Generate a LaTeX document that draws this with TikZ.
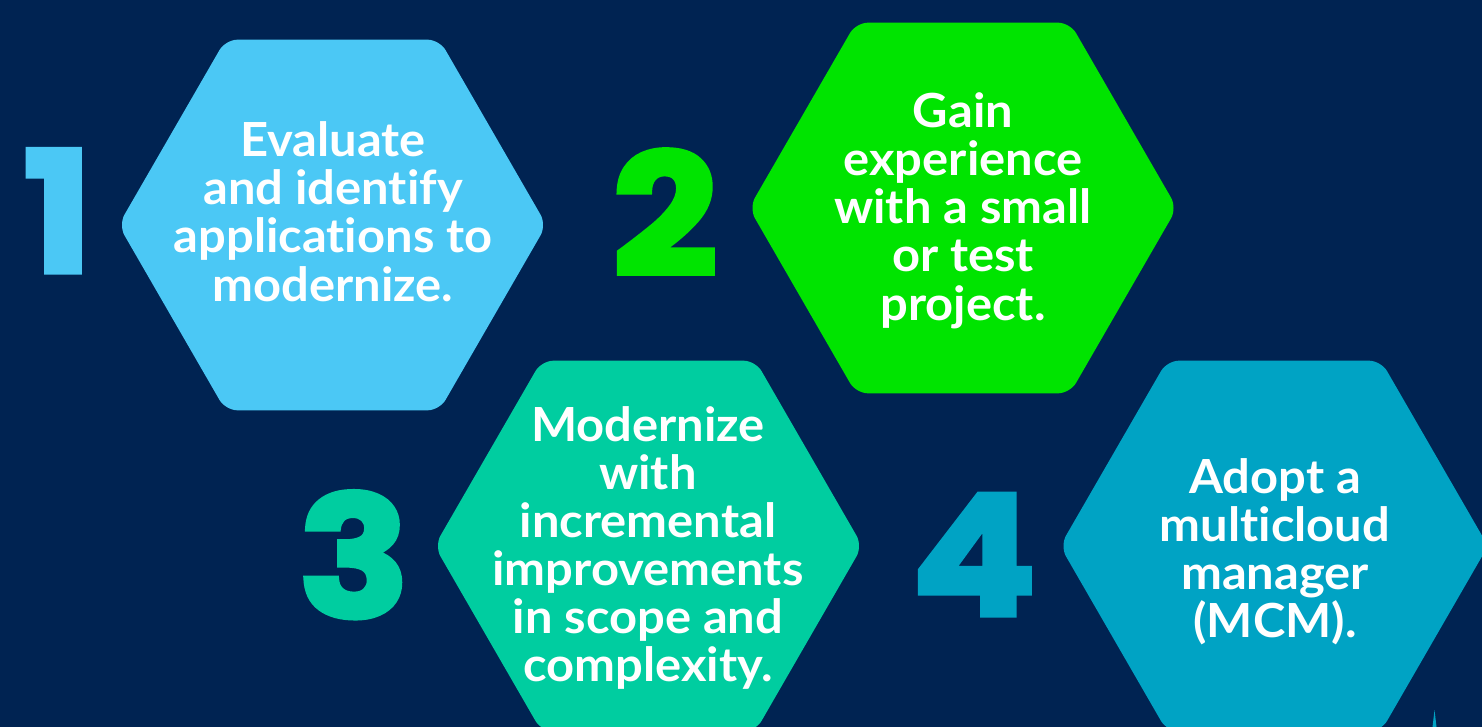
\documentclass[tikz,border=0pt]{standalone}
\usepackage{fontspec}
\setmainfont{Lato}[Ligatures={NoCommon}, FakeStretch=1.04]
\newfontfamily\numfont{Poppins}[UprightFont=* Bold, FakeBold=3, FakeStretch=1.1]
\usetikzlibrary{shapes.geometric}
\definecolor{navy}{RGB}{0,35,82}
\definecolor{hexA}{RGB}{75,200,245}
\definecolor{hexB}{RGB}{0,228,0}
\definecolor{hexC}{RGB}{0,205,160}
\definecolor{hexD}{RGB}{0,163,196}
\tikzset{
  hexbox/.style={regular polygon, regular polygon sides=6, minimum size=428pt,
    inner sep=0pt, rounded corners=12pt, draw=none},
  bignum/.style={anchor=base, inner sep=0pt, font=\numfont\fontsize{168}{168}\selectfont},
  line/.style={anchor=base, inner sep=0pt, text=white, font=\bfseries\fontsize{47}{48}\selectfont}
}
\begin{document}
\begin{tikzpicture}[x=1pt,y=-1pt]
\fill[navy] (0,0) rectangle (1482,727);
\useasboundingbox (0,0) rectangle (1482,727);
% hexagons
\node[hexbox, fill=hexA] (h1) at (332.5,225) {};
\node[hexbox, fill=hexB] (h2) at (963,208) {};
\node[hexbox, fill=hexC] (h3) at (648.5,546) {};
\node[hexbox, fill=hexD] (h4) at (1274,546) {};
\fill[hexD] (1432.5,727) -- (1434.5,710) -- (1436.5,727) -- cycle;
% numbers
\node[bignum, text=hexA] (n1) at (58,272) {1};
\node[bignum, text=hexB] (n2) at (665,275) {2};
\node[bignum, text=hexC] (n3) at (354,617) {3};
\node[bignum, text=hexD] (n4) at (974,615) {4};
% texts
\foreach \t [count=\i] in {Evaluate, and identify, applications to, modernize.}
  \node[line] (a\i) at (333,157+48*\i-48) {\t};
\foreach \t [count=\i] in {Gain, experience, with a small, or test, project.}
  \node[line] (b\i) at (963,128+48*\i-48) {\t};
\foreach \t [count=\i] in {Modernize, with, incremental, improvements, in scope and, complexity.}
  \node[line] (c\i) at (648,441+48*\i-48) {\t};
\foreach \t [count=\i] in {Adopt a, multicloud, manager, (MCM).}
  \node[line] (d\i) at (1275,493+48*\i-48) {\t};
\end{tikzpicture}
\end{document}
